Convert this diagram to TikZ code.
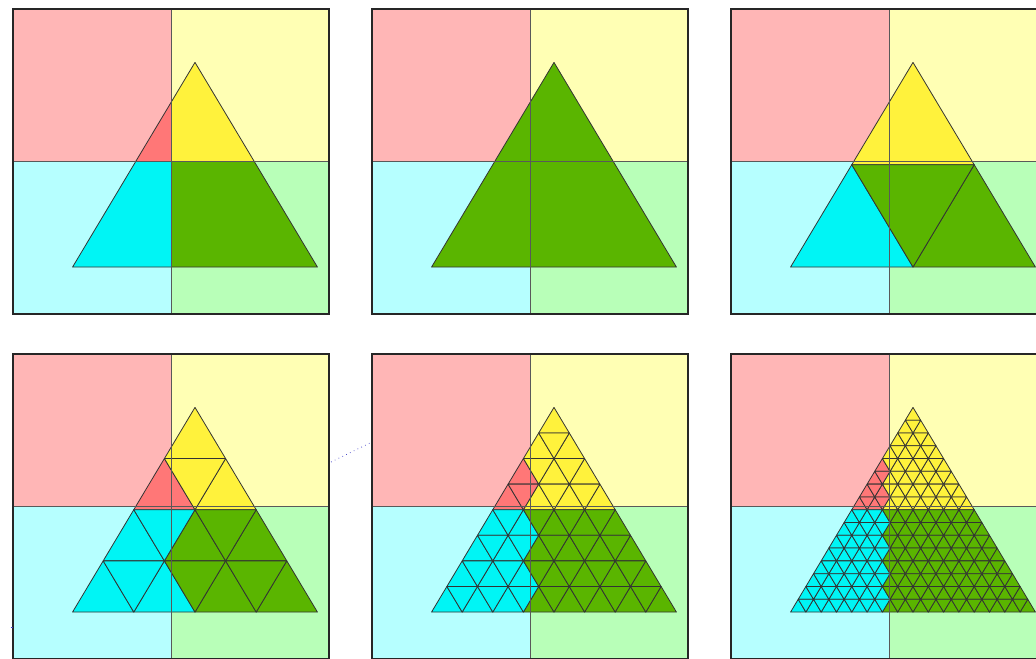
\documentclass[tikz,border=0pt]{standalone}
\usepackage{tikz}

\definecolor{lred}{RGB}{255,182,182}
\definecolor{lyel}{RGB}{255,255,180}
\definecolor{lcya}{RGB}{182,255,255}
\definecolor{lgre}{RGB}{184,255,184}
\definecolor{q1}{RGB}{255,119,119}
\definecolor{q2}{RGB}{255,242,60}
\definecolor{q3}{RGB}{0,245,245}
\definecolor{q4}{RGB}{90,181,0}

\tikzset{
  cell/.style={draw=black!80,line width=0.45pt,line join=round},
  panel/.style={x=3.16cm,y=3.05cm}
}

\newcommand{\quads}{%
  \fill[lred] (-1,0) rectangle (0,1);
  \fill[lyel] (0,0) rectangle (1,1);
  \fill[lcya] (-1,-1) rectangle (0,0);
  \fill[lgre] (0,-1) rectangle (1,0);}
\newcommand{\frameit}{%
  \draw[black!65,line width=0.55pt] (-1,0) -- (1,0) (0,-1) -- (0,1);
  \draw[black!85,line width=1.1pt] (-1,-1) rectangle (1,1);}
\newcommand{\mesh}[1]{%
  \pgfmathsetmacro{\cw}{1.55/#1}
  \pgfmathsetmacro{\ch}{1.3423/#1}
  \pgfmathtruncatemacro{\last}{#1-1}
  \foreach \i in {0,...,\last}{
    \pgfmathsetmacro{\ytop}{0.65-\i*\ch}
    \foreach \j in {0,...,\i}{
      \pgfmathsetmacro{\xa}{0.15+(\j-\i/2)*\cw}
      \pgfmathtruncatemacro{\q}{1+(\xa>=0)+2*((\ytop-2*\ch/3)<0)}
      \filldraw[cell,fill=q\q] (\xa,\ytop) -- ++(-\cw/2,-\ch) -- ++(\cw,0) -- cycle;
      \ifnum\j>0
        \pgfmathtruncatemacro{\q}{1+((\xa-\cw/2)>=0)+2*((\ytop-\ch/3)<0)}
        \filldraw[cell,fill=q\q] (\xa,\ytop) -- ++(-\cw,0) -- ++(\cw/2,-\ch) -- cycle;
      \fi
    }
  }}

\begin{document}
\begin{tikzpicture}[x=0.02cm,y=-0.02cm]
\useasboundingbox (0,0) rectangle (1036,659);
\clip (0,0) rectangle (1036,659);

\begin{scope}[shift={(171.3,161.5)},panel]
\quads
\begin{scope}
\clip (0.15,0.65) -- (-0.625,-0.6923) -- (0.925,-0.6923) -- cycle;
\fill[q1] (-1,0) rectangle (0,1);
\fill[q2] (0,0) rectangle (1,1);
\fill[q3] (-1,-1) rectangle (0,0);
\fill[q4] (0,-1) rectangle (1,0);
\end{scope}
\draw[cell] (0.15,0.65) -- (-0.625,-0.6923) -- (0.925,-0.6923) -- cycle;
\frameit
\end{scope}

\begin{scope}[shift={(530.3,161.5)},panel]
\quads \mesh{1} \frameit
\end{scope}

\begin{scope}[shift={(889.3,161.5)},panel]
\quads \mesh{2} \frameit
\end{scope}

\begin{scope}[shift={(171.3,506.5)},panel]
\quads \mesh{4} \frameit
\end{scope}

\begin{scope}[shift={(530.3,506.5)},panel]
\quads \mesh{8} \frameit
\end{scope}

\begin{scope}[shift={(889.3,506.5)},panel]
\quads \mesh{16} \frameit
\end{scope}

\coordinate (s1) at (331,462);
\coordinate (s2) at (372,442);
\draw[blue!55!gray,dotted,line width=0.4pt] (s1) -- (s2);
\coordinate (t1) at (10.5,627.3);
\coordinate (t2) at (13,627.3);
\draw[blue!50!gray,line width=0.4pt] (t1) -- (t2);
\end{tikzpicture}
\end{document}
